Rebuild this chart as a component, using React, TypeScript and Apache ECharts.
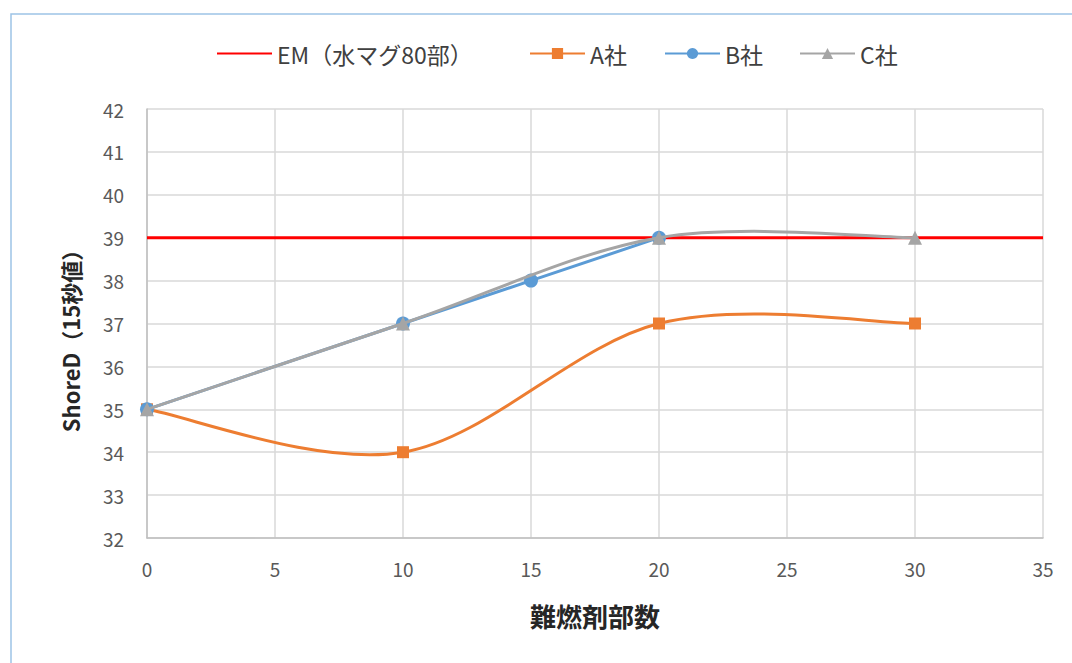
import React, { useEffect, useRef } from "react";
import * as echarts from "echarts";

const xTicks = [0, 5, 10, 15, 20, 25, 30, 35];
const yMin = 32;
const yMax = 42;
const emLevel = 39;
const emRange = [0, 35];
const aX = [0, 10, 20, 30];
const aY = [35, 34, 37, 37];
const bX = [0, 10, 15, 20];
const bY = [35, 37, 38, 39];
const cX = [0, 10, 20, 30];
const cY = [35, 37, 39, 39];

const seriesNames = ["EM（水マグ80部）", "A社", "B社", "C社"];
const xTitle = "難燃剤部数";
const yTitle = "ShoreD（15秒値）";

const FONT = "'Noto Sans CJK JP', 'Noto Sans', sans-serif";
const RED = "#ff0000";
const ORANGE = "#ed7d31";
const BLUE = "#5b9bd5";
const GRAY = "#a5a5a5";

const pairs = (xs: number[], ys: number[]) => xs.map((x, i) => [x, ys[i]]);

// Cardinal (Catmull-Rom style) bezier through pixel points, tension 1/6
function smoothPath(pts: number[][]): string {
  const n = pts.length;
  let d = `M${pts[0][0]},${pts[0][1]}`;
  for (let i = 0; i < n - 1; i++) {
    const p0 = pts[Math.max(i - 1, 0)];
    const p1 = pts[i];
    const p2 = pts[i + 1];
    const p3 = pts[Math.min(i + 2, n - 1)];
    const c1x = p1[0] + (p2[0] - p0[0]) / 6;
    const c1y = p1[1] + (p2[1] - p0[1]) / 6;
    const c2x = p2[0] - (p3[0] - p1[0]) / 6;
    const c2y = p2[1] - (p3[1] - p1[1]) / 6;
    d += ` C${c1x},${c1y} ${c2x},${c2y} ${p2[0]},${p2[1]}`;
  }
  return d;
}

function smoothCurveSeries(xs: number[], ys: number[], color: string, z: number) {
  return {
    type: "custom",
    name: "curve-" + color,
    data: pairs(xs, ys),
    encode: { x: 0, y: 1 },
    z,
    silent: true,
    renderItem: (params: any, api: any) => {
      if (params.dataIndex !== 0) return null;
      const pts = xs.map((x, i) => api.coord([x, ys[i]]));
      return {
        type: "path",
        shape: { pathData: smoothPath(pts) },
        style: { stroke: color, lineWidth: 3, fill: "none" },
      };
    },
  };
}

function legendAt(name: string, left: number, extra: any = {}) {
  return {
    top: 37,
    left,
    itemWidth: 55,
    itemHeight: 14,
    itemGap: 0,
    textStyle: { fontSize: 23, color: "#404040", fontFamily: FONT },
    data: [{ name, ...extra }],
  };
}

export default function App() {
  const ref = useRef<HTMLDivElement>(null);

  useEffect(() => {
    if (!ref.current) return;
    const chart = echarts.init(ref.current, undefined, { renderer: "svg" });
    chart.setOption({
      animation: false,
      backgroundColor: "#ffffff",
      textStyle: { fontFamily: FONT },
      graphic: [
        {
          type: "rect",
          shape: { x: 11, y: 14, width: 1100, height: 700 },
          style: { fill: "none", stroke: "#9dc3e6", lineWidth: 1.5 },
          silent: true,
        },
      ],
      legend: [
        legendAt(seriesNames[0], 211, { itemStyle: { opacity: 0 } }),
        legendAt(seriesNames[1], 524, { lineStyle: { opacity: 1 } }),
        legendAt(seriesNames[2], 659),
        legendAt(seriesNames[3], 794, { lineStyle: { opacity: 1 } }),
      ],
      grid: { left: 147, right: 29, top: 109, bottom: 125, containLabel: false },
      xAxis: {
        type: "value",
        min: xTicks[0],
        max: xTicks[xTicks.length - 1],
        interval: 5,
        name: xTitle,
        nameLocation: "middle",
        nameGap: 64,
        nameTextStyle: { fontSize: 26, fontWeight: "bold", color: "#262626", fontFamily: FONT },
        axisLine: { lineStyle: { color: "#bfbfbf", width: 1.5 } },
        axisTick: { show: false },
        axisLabel: { fontSize: 19, color: "#595959", margin: 21, fontFamily: FONT },
        splitLine: { show: true, lineStyle: { color: "#d9d9d9", width: 1.5 } },
      },
      yAxis: {
        type: "value",
        min: yMin,
        max: yMax,
        interval: 1,
        name: yTitle,
        nameLocation: "middle",
        nameGap: 66,
        nameTextStyle: {
          fontSize: 22,
          fontWeight: "bold",
          color: "#262626",
          fontFamily: FONT,
          padding: [0, 24, 0, 0],
        },
        axisLine: { show: true, lineStyle: { color: "#bfbfbf", width: 1.5 } },
        axisTick: { show: false },
        axisLabel: { fontSize: 19, color: "#595959", margin: 23, fontFamily: FONT },
        splitLine: { show: true, lineStyle: { color: "#d9d9d9", width: 1.5 } },
      },
      series: [
        {
          name: seriesNames[0],
          type: "line",
          data: emRange.map((x) => [x, emLevel]),
          symbol: "none",
          lineStyle: { color: RED, width: 3 },
          itemStyle: { color: RED },
          z: 1,
        },
        smoothCurveSeries(aX, aY, ORANGE, 2),
        {
          name: seriesNames[1],
          type: "line",
          data: pairs(aX, aY),
          symbol: "rect",
          symbolSize: 12,
          lineStyle: { color: ORANGE, width: 3, opacity: 0 },
          itemStyle: { color: ORANGE },
          z: 3,
        },
        {
          name: seriesNames[2],
          type: "line",
          data: pairs(bX, bY),
          symbol: "circle",
          symbolSize: 14,
          lineStyle: { color: BLUE, width: 3 },
          itemStyle: { color: BLUE },
          z: 4,
        },
        smoothCurveSeries(cX, cY, GRAY, 5),
        {
          name: seriesNames[3],
          type: "line",
          data: pairs(cX, cY),
          symbol: "triangle",
          symbolSize: 14,
          lineStyle: { color: GRAY, width: 3, opacity: 0 },
          itemStyle: { color: GRAY },
          z: 6,
        },
      ],
    });
    return () => chart.dispose();
  }, []);

  return (
    <div
      ref={ref}
      style={{ position: "fixed", left: 0, top: 0, width: 1072, height: 663, background: "#fff" }}
    />
  );
}
